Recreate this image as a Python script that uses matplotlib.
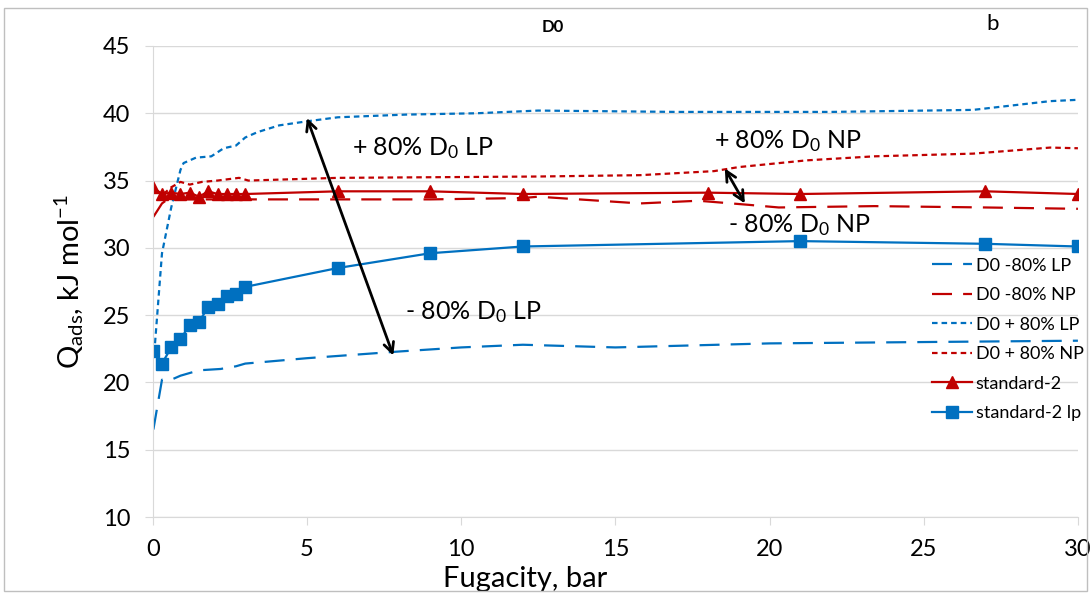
import matplotlib
matplotlib.use("Agg")
import matplotlib.pyplot as plt
from matplotlib.patches import Rectangle

plt.rcParams['font.family'] = ['Lato', 'DejaVu Sans']
plt.rcParams['mathtext.fontset'] = 'custom'
plt.rcParams['mathtext.rm'] = 'Lato'
plt.rcParams['mathtext.it'] = 'Lato'

blue = '#0070C0'
red = '#C00000'

# standard-2 lp (squares)
std_lp_x = [0, 0.3, 0.6, 0.9, 1.2, 1.5, 1.8, 2.1, 2.4, 2.7, 3.0, 6, 9, 12, 21, 27, 30]
std_lp_y = [22.3, 21.4, 22.6, 23.2, 24.3, 24.5, 25.6, 25.8, 26.4, 26.6, 27.1, 28.5, 29.6, 30.1, 30.5, 30.3, 30.1]

# standard-2 (triangles)
std_x = [0, 0.3, 0.6, 0.9, 1.2, 1.5, 1.8, 2.1, 2.4, 2.7, 3.0, 6, 9, 12, 18, 21, 27, 30]
std_y = [34.5, 34.0, 34.1, 34.0, 34.1, 33.8, 34.2, 34.0, 34.0, 34.0, 34.0, 34.2, 34.2, 34.0, 34.1, 34.0, 34.2, 34.0]

# D0 -80% LP
m_lp_x = [0.02, 0.3, 0.6, 0.9, 1.5, 2.2, 2.7, 3.0, 5, 8, 10, 12, 15, 20, 25, 30]
m_lp_y = [16.5, 20.2, 20.2, 20.5, 20.9, 21.0, 21.2, 21.4, 21.8, 22.3, 22.6, 22.8, 22.6, 22.9, 23.0, 23.1]

# D0 -80% NP
m_np_x = [0.02, 0.3, 0.6, 1.0, 3, 6, 9, 12, 12.5, 15.8, 17.7, 19.3, 20.3, 23.4, 27, 30]
m_np_y = [32.3, 33.3, 33.8, 33.6, 33.6, 33.6, 33.6, 33.7, 33.8, 33.3, 33.5, 33.2, 33.0, 33.1, 33.0, 32.9]

# D0 + 80% LP
p_lp_x = [0.05, 0.3, 0.6, 0.9, 1.0, 1.4, 1.9, 2.3, 2.7, 3.0, 3.4, 4.1, 5, 6, 8.2, 10.5, 12.5, 17, 22, 26.6, 29.1, 30]
p_lp_y = [22.2, 29.6, 33.0, 35.8, 36.3, 36.7, 36.8, 37.4, 37.6, 38.2, 38.6, 39.1, 39.4, 39.7, 39.9, 40.0, 40.2, 40.1, 40.1, 40.25, 40.9, 41.0]

# D0 + 80% NP
p_np_x = [0.35, 0.6, 0.9, 1.2, 1.6, 2.1, 2.8, 3.1, 6, 12.5, 15.8, 18.2, 19.0, 21.2, 23.4, 26.6, 29.1, 30]
p_np_y = [34.0, 34.5, 34.9, 34.7, 34.9, 35.0, 35.2, 35.0, 35.2, 35.3, 35.4, 35.7, 36.0, 36.5, 36.8, 37.0, 37.45, 37.4]

fig = plt.figure(figsize=(10.91, 5.97), dpi=100)
ax = fig.add_axes([0.140, 0.134, 0.848, 0.789])

ax.plot(m_lp_x, m_lp_y, color=blue, lw=1.6, dashes=(9, 5), label='D0 -80% LP')
ax.plot(m_np_x, m_np_y, color=red, lw=1.6, dashes=(9, 5), label='D0 -80% NP')
ax.plot(p_lp_x, p_lp_y, color=blue, lw=1.6, dashes=(2.5, 1.8), label='D0 + 80% LP')
ax.plot(p_np_x, p_np_y, color=red, lw=1.6, dashes=(2.5, 1.8), label='D0 + 80% NP')
ax.plot(std_x, std_y, color=red, lw=1.6, marker='^', ms=8, label='standard-2')
ax.plot(std_lp_x, std_lp_y, color=blue, lw=1.6, marker='s', ms=8, label='standard-2 lp')

# annotations
arrow = dict(arrowstyle='<->', color='black', lw=2, mutation_scale=18, shrinkA=0, shrinkB=0)
ax.annotate('', xy=(5.0, 39.65), xytext=(7.8, 22.0), arrowprops=arrow)
ax.annotate('', xy=(18.55, 35.9), xytext=(19.2, 33.3), arrowprops=arrow)
fs = 18
ax.text(6.45, 37.4, '+ 80% D$_0$ LP', fontsize=fs, va='center', ha='left')
ax.text(8.17, 25.2, '- 80% D$_0$ LP', fontsize=fs, va='center', ha='left')
ax.text(18.2, 37.9, '+ 80% D$_0$ NP', fontsize=fs, va='center', ha='left')
ax.text(18.65, 31.7, '- 80% D$_0$ NP', fontsize=fs, va='center', ha='left')

ax.set_xlim(0, 30)
ax.set_ylim(10, 45)
ax.set_xticks(range(0, 31, 5))
ax.set_yticks(range(10, 46, 5))
ax.tick_params(labelsize=17, colors='#d9d9d9', labelcolor='black', length=6)
ax.tick_params(axis='x', pad=10)
ax.tick_params(axis='y', pad=10)
ax.yaxis.grid(True, color='#d9d9d9', lw=1)
ax.set_axisbelow(True)
for s in ['top', 'right']:
    ax.spines[s].set_visible(False)
for s in ['left', 'bottom']:
    ax.spines[s].set_color('#d9d9d9')

ax.set_xlabel('Fugacity, bar', fontsize=21, labelpad=4, x=0.403)
ax.set_ylabel('Q$_\\mathrm{ads}$, kJ mol$^\\mathrm{-1}$', fontsize=21, labelpad=12)
ax.set_title('D0', fontsize=12, fontweight='bold', pad=10, x=0.432)
fig.text(0.91, 0.96, 'b', fontsize=16, ha='center', va='center')

ax.legend(loc='upper left', bbox_to_anchor=(0.835, 0.566), frameon=False, fontsize=13,
          handlelength=2.2, handletextpad=0.2, labelspacing=0.75, borderaxespad=0)

fig.patches.append(Rectangle((0.004, 0.01), 0.992, 0.977, transform=fig.transFigure,
                             fill=False, edgecolor='#bfbfbf', lw=1))

fig.savefig('out.png', dpi=100)
